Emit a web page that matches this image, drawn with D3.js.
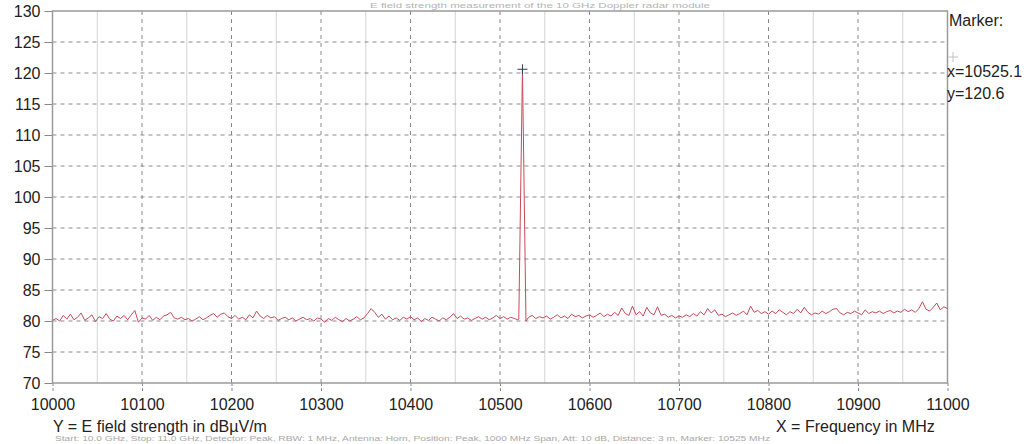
<!DOCTYPE html>
<html>
<head>
<meta charset="utf-8">
<script src="https://cdn.jsdelivr.net/npm/d3@7"></script>
<style>
  html, body { margin: 0; padding: 0; background: #fff; }
  svg { display: block; font-family: "Liberation Sans", Arial, sans-serif; }
</style>
</head>
<body>
<svg id="chart" width="1034" height="444"></svg>
<script>
// Sweep grid: 10000 .. 11000 MHz, 4 MHz steps
const sweepStart = 10000;
const sweepStep = 4;

// Measured level of the noise floor at each sweep point (dBµV/m)
const floorLevels = [
  80.1, 80.4, 80.0, 80.9, 80.3, 81.1, 80.2, 80.6, 81.3, 80.1,
  80.5, 81.0, 79.9, 80.7, 80.4, 81.2, 80.3, 80.0, 80.8, 80.4,
  80.9, 80.2, 81.0, 81.7, 79.8, 80.5, 80.3, 80.9, 80.1, 80.6,
  80.2, 80.8, 81.0, 81.4, 80.5, 80.3, 80.6, 80.2, 80.4, 80.0,
  80.3, 80.7, 80.2, 80.5, 80.9, 81.2, 80.6, 81.1, 81.3, 80.7,
  80.4, 80.9, 80.3, 80.6, 80.2, 81.0, 80.5, 81.6, 80.8, 80.4,
  80.9, 80.5, 80.7, 80.1, 80.4, 80.6, 80.2, 80.5, 80.0, 80.3,
  80.6, 80.2, 80.4, 80.0, 80.5, 80.3, 79.8, 80.4, 80.1, 80.6,
  80.2, 79.9, 80.4, 80.0, 80.3, 80.7, 80.2, 80.5, 81.2, 82.0,
  81.4, 80.6, 81.1, 80.3, 80.8, 80.2, 80.5, 80.1, 80.6, 80.3,
  80.7, 80.2, 80.5, 79.9, 80.4, 80.1, 80.6, 80.3, 80.0, 80.5,
  80.2, 80.6, 81.2, 80.4, 80.8, 80.3, 80.5, 80.1, 80.4, 80.7,
  80.3, 80.6, 80.2, 80.5, 80.9, 80.4, 80.7, 80.3, 80.6, 80.4,
  80.2, 80.5, 80.1, 80.6, 80.9, 80.4, 80.7, 80.5, 80.8, 80.3,
  80.6, 81.0, 80.5, 80.8, 80.4, 81.1, 80.7, 80.9, 80.5, 80.8,
  81.0, 80.6, 80.9, 81.3, 80.7, 81.1, 80.8, 81.4, 80.9, 82.1,
  81.2, 80.9, 82.4, 81.0, 81.5, 80.8, 82.2, 81.3, 81.0, 82.3,
  80.9, 81.1, 80.6, 80.9, 80.5, 80.8, 80.6, 81.0, 80.7, 81.2,
  80.8, 81.5, 81.0, 82.0, 81.3, 81.8, 80.9, 81.1, 80.7, 81.0,
  81.3, 80.9, 81.2, 81.6, 81.0, 82.4, 81.4, 81.7, 81.2, 81.5,
  81.1, 81.6, 81.2, 81.8, 81.4, 81.0, 81.5, 81.2, 81.9, 81.3,
  82.2, 81.4, 81.0, 81.3, 81.1, 81.6, 81.2, 81.5, 81.9, 82.0,
  81.3, 81.0, 81.4, 81.2, 81.6, 81.3, 81.0, 81.8, 81.2, 81.5,
  81.3, 81.6, 81.2, 81.5, 81.7, 81.3, 81.6, 81.4, 81.9, 81.5,
  81.8, 81.4, 82.0, 83.1, 81.9, 81.6, 82.2, 82.9, 81.8, 82.3,
  82.0
];

// Carrier of the emitter (MHz / dBµV/m)
const carrierFreqs = [10521, 10525.1, 10529];
const carrierLevels = [80.3, 120.6, 80.0];

// Marker readout
const markerFreq = 10525.1;
const markerLevel = 120.6;

// Axis ticks
const xTicks = [10000, 10100, 10200, 10300, 10400, 10500, 10600, 10700, 10800, 10900, 11000];
const xMinorTicks = [10050, 10150, 10250, 10350, 10450, 10550, 10650, 10750, 10850, 10950];
const yTicks = [70, 75, 80, 85, 90, 95, 100, 105, 110, 115, 120, 125, 130];

const titleText = "E field strength measurement of the 10 GHz Doppler radar module";
const yLabel = "Y = E field strength in dBµV/m";
const xLabel = "X = Frequency in MHz";
const footText = "Start: 10.0 GHz, Stop: 11.0 GHz, Detector: Peak, RBW: 1 MHz, Antenna: Horn, Position: Peak, 1000 MHz Span, Att: 10 dB, Distance: 3 m, Marker: 10525 MHz";

// ---- assemble trace ----
const sweep = floorLevels.map((v, i) => ({ f: sweepStart + i * sweepStep, v }))
  .filter(d => d.f <= carrierFreqs[0] || d.f >= carrierFreqs[carrierFreqs.length - 1]);
const carrier = carrierFreqs.map((f, i) => ({ f, v: carrierLevels[i] }));
const trace = sweep.concat(carrier).sort((a, b) => a.f - b.f);

// ---- layout ----
const svg = d3.select("#chart");
const plotL = 52.5, plotR = 947.5, plotT = 11, plotB = 383;

const x = d3.scaleLinear().domain([10000, 11000]).range([plotL, plotR]);
const y = d3.scaleLinear().domain([70, 130]).range([plotB, plotT]);

// Title, small and pale above the plot frame
svg.append("text")
  .attr("x", 370).attr("y", 8)
  .attr("textLength", 340).attr("lengthAdjust", "spacingAndGlyphs")
  .attr("font-size", 8).attr("fill", "#b4b4b4")
  .text(titleText);

// Minor vertical grid (solid, light)
svg.append("g").selectAll("line").data(xMinorTicks).join("line")
  .attr("x1", d => x(d)).attr("x2", d => x(d))
  .attr("y1", plotT).attr("y2", plotB)
  .attr("stroke", "#d4d4d4").attr("stroke-width", 1);

// Major vertical grid (dashed)
svg.append("g").selectAll("line").data(xTicks.slice(1, -1)).join("line")
  .attr("x1", d => x(d)).attr("x2", d => x(d))
  .attr("y1", plotT).attr("y2", plotB)
  .attr("stroke", "#8a8a8a").attr("stroke-width", 1)
  .attr("stroke-dasharray", "4,4");

// Horizontal grid (dashed)
svg.append("g").selectAll("line").data(yTicks.slice(1, -1)).join("line")
  .attr("x1", plotL).attr("x2", plotR)
  .attr("y1", d => y(d)).attr("y2", d => y(d))
  .attr("stroke", "#8a8a8a").attr("stroke-width", 1)
  .attr("stroke-dasharray", "4,4");

// Axes
const yAxis = d3.axisLeft(y).tickValues(yTicks).tickSize(8).tickPadding(4);
const gy = svg.append("g").attr("transform", `translate(${plotL},0)`).call(yAxis);
gy.select(".domain").remove();
gy.selectAll(".tick line").attr("stroke", "#888");
gy.selectAll(".tick text")
  .attr("font-size", 16).attr("fill", "#222")
  .attr("font-family", "Liberation Sans, Arial, sans-serif");

const xAxis = d3.axisBottom(x).tickValues(xTicks).tickFormat(d3.format("d")).tickSize(9).tickPadding(7);
const gx = svg.append("g").attr("transform", `translate(0,${plotB})`).call(xAxis);
gx.select(".domain").remove();
gx.selectAll(".tick line").attr("stroke", "#888").attr("stroke-dasharray", "3,2");
gx.selectAll(".tick text")
  .attr("font-size", 16).attr("fill", "#222")
  .attr("font-family", "Liberation Sans, Arial, sans-serif");

// Plot frame
svg.append("rect")
  .attr("x", plotL).attr("y", plotT)
  .attr("width", plotR - plotL).attr("height", plotB - plotT)
  .attr("fill", "none").attr("stroke", "#9a9a9a").attr("stroke-width", 1.5);

// Trace
const line = d3.line().x(d => x(d.f)).y(d => y(d.v));
svg.append("path")
  .datum(trace)
  .attr("d", line)
  .attr("fill", "none")
  .attr("stroke", "#c84a5a")
  .attr("stroke-width", 1)
  .attr("stroke-linejoin", "round");

// Marker cross on the peak
const mx = x(markerFreq), my = y(markerLevel);
svg.append("path")
  .attr("d", `M${mx - 5},${my}H${mx + 5}M${mx},${my - 5}V${my + 5}`)
  .attr("stroke", "#333a55").attr("stroke-width", 1);

// Marker readout on the right
const rd = svg.append("g").attr("font-size", 16).attr("fill", "#222");
rd.append("text").attr("x", 949).attr("y", 26).text("Marker:");
rd.append("path")
  .attr("d", "M953,52V62M948,57H958")
  .attr("stroke", "#c4c4c4").attr("stroke-width", 1);
rd.append("text").attr("x", 947).attr("y", 77).text("x=" + markerFreq.toFixed(1));
rd.append("text").attr("x", 947).attr("y", 99).text("y=" + markerLevel.toFixed(1));

// Axis descriptions
svg.append("text").attr("x", 53).attr("y", 432)
  .attr("font-size", 16).attr("fill", "#222").text(yLabel);
svg.append("text").attr("x", 776).attr("y", 432)
  .attr("font-size", 16).attr("fill", "#222").text(xLabel);

// Measurement settings line along the lower edge
svg.append("text").attr("x", 55).attr("y", 441)
  .attr("textLength", 715).attr("lengthAdjust", "spacingAndGlyphs")
  .attr("font-size", 7.5).attr("fill", "#a8a8a8").text(footText);
</script>
</body>
</html>
